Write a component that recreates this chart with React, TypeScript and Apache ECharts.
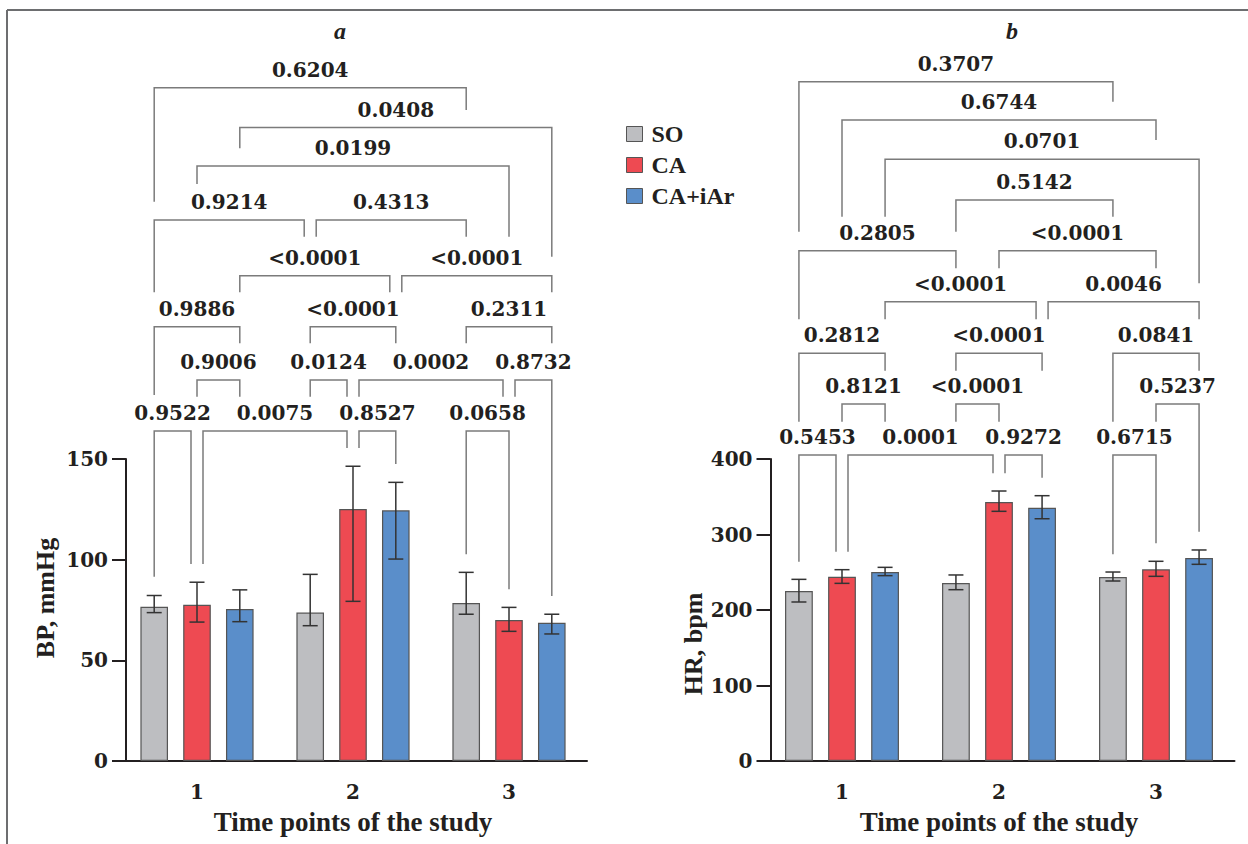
import React, { useEffect, useRef } from 'react';
import * as echarts from 'echarts';

const categories = ['1', '2', '3'];
const groupNames = ['SO', 'CA', 'CA+iAr'];
const groupColors = ['#BDBEC1', '#EE4A52', '#5A8ECA'];

// BP, mmHg (panel a): mean, lower and upper error-bar ends per group, per time point
const bpMeans = [
  [76.6, 73.7, 78.5],
  [77.6, 125.2, 70.0],
  [75.5, 124.5, 68.7],
];
const bpLow = [
  [73.7, 67.2, 72.9],
  [69.0, 79.3, 64.4],
  [69.2, 100.3, 63.1],
];
const bpHigh = [
  [82.2, 92.7, 93.7],
  [88.8, 146.4, 76.3],
  [85.0, 138.4, 72.9],
];

// HR, bpm (panel b)
const hrMeans = [
  [225.2, 235.8, 243.7],
  [244.1, 343.0, 253.9],
  [250.3, 335.5, 268.9],
];
const hrLow = [
  [210.6, 226.9, 238.4],
  [235.3, 330.7, 244.6],
  [245.5, 320.9, 260.5],
];
const hrHigh = [
  [240.6, 246.4, 250.3],
  [253.4, 357.6, 264.5],
  [256.5, 351.4, 279.5],
];

// brackets: [label, time1, group1, side1, time2, group2, side2, top, leg1 end, leg2 end]
const bpBrackets: any[] = [
  ['0.9522', 0, 0, 0, 0, 1, -1, 163.9, 91.5, 97.8],
  ['0.0075', 0, 1, 1, 1, 1, -1, 163.9, 97.8, 155.5],
  ['0.8527', 1, 1, 1, 1, 2, 0, 163.9, 155.5, 147.5],
  ['0.0658', 2, 0, 0, 2, 1, 0, 163.9, 102.7, 85.3],
  ['0.9006', 0, 1, 0, 0, 2, 0, 189.2, 180.9, 180.9],
  ['0.0124', 1, 0, 0, 1, 1, -1, 189.2, 180.9, 180.9],
  ['0.0002', 1, 1, 1, 2, 1, -1, 189.2, 180.9, 180.9],
  ['0.8732', 2, 1, 1, 2, 2, 0, 189.2, 180.9, 82.0],
  ['0.9886', 0, 0, 0, 0, 2, 0, 215.7, 181.8, 207.5],
  ['<0.0001', 1, 0, 0, 1, 2, 0, 215.7, 207.5, 207.5],
  ['0.2311', 2, 0, 0, 2, 2, 0, 215.7, 207.5, 207.5],
  ['<0.0001', 0, 2, 0, 1, 2, -1, 241.0, 232.8, 232.8],
  ['<0.0001', 1, 2, 1, 2, 2, 0, 241.0, 232.8, 232.8],
  ['0.9214', 0, 0, 0, 1, 0, -1, 268.7, 232.8, 260.4],
  ['0.4313', 1, 0, 1, 2, 0, 0, 268.7, 260.4, 260.4],
  ['0.0199', 0, 1, 0, 2, 1, 0, 295.5, 286.6, 260.4],
  ['0.0408', 0, 2, 0, 2, 2, 0, 314.6, 304.3, 250.5],
  ['0.6204', 0, 0, 0, 2, 0, 0, 334.4, 277.8, 323.3],
];
const hrBrackets: any[] = [
  ['0.5453', 0, 0, 0, 0, 1, -1, 405.3, 264.0, 277.2],
  ['0.0001', 0, 1, 1, 1, 1, -1, 405.3, 277.2, 381.1],
  ['0.9272', 1, 1, 1, 1, 2, 0, 405.3, 381.1, 375.2],
  ['0.6715', 2, 0, 0, 2, 1, 0, 405.3, 273.8, 288.3],
  ['0.8121', 0, 1, 0, 0, 2, 0, 472.8, 449.4, 449.4],
  ['<0.0001', 1, 0, 0, 1, 1, 0, 472.8, 449.4, 449.4],
  ['0.5237', 2, 1, 0, 2, 2, 0, 472.8, 449.4, 303.7],
  ['0.2812', 0, 0, 0, 0, 2, 0, 540.0, 449.4, 517.0],
  ['<0.0001', 1, 0, 0, 1, 2, 0, 540.0, 517.0, 517.0],
  ['0.0841', 2, 0, 0, 2, 2, 0, 540.0, 449.4, 517.0],
  ['<0.0001', 0, 2, 0, 1, 2, -1, 608.3, 585.0, 585.0],
  ['0.0046', 1, 2, 1, 2, 2, 0, 608.3, 585.0, 585.0],
  ['0.2805', 0, 0, 0, 1, 0, 0, 675.9, 585.0, 652.6],
  ['<0.0001', 1, 1, 0, 2, 1, 0, 675.9, 652.6, 652.6],
  ['0.5142', 1, 0, 0, 2, 0, 0, 743.0, 701.1, 720.9],
  ['0.0701', 0, 2, 0, 2, 2, 0, 797.0, 720.9, 632.7],
  ['0.6744', 0, 1, 0, 2, 1, 0, 849.0, 720.9, 822.5],
  ['0.3707', 0, 0, 0, 2, 0, 0, 899.7, 701.1, 873.2],
];

const BAR_W = 0.177;
const BAR_GAP = 0.55;
const NUDGE = 6;
const INK = '#231f20';
const SERIF = '"DejaVu Serif", serif';
const TIMES = '"Liberation Serif", serif';

function barX(api: any, g: number, s: number, side: number) {
  const band = api.size([1, 0])[0];
  const c = api.coord([g, 0])[0];
  return c + (s - 1) * band * BAR_W * (1 + BAR_GAP) + side * NUDGE;
}

function errorSeries(axis: number, low: number[][], high: number[][]) {
  const data: number[][] = [];
  for (let s = 0; s < 3; s++) for (let g = 0; g < 3; g++) data.push([g, s, low[s][g], high[s][g]]);
  return {
    type: 'custom',
    xAxisIndex: axis,
    yAxisIndex: axis,
    z: 5,
    silent: true,
    encode: { x: 0, y: 2 },
    data,
    renderItem: (params: any, api: any) => {
      const g = api.value(0);
      const s = api.value(1);
      const x = barX(api, g, s, 0);
      const yl = api.coord([g, api.value(2)])[1];
      const yh = api.coord([g, api.value(3)])[1];
      const cap = 7.5;
      const st = { stroke: '#333', lineWidth: 1.5 };
      return {
        type: 'group',
        children: [
          { type: 'line', shape: { x1: x, y1: yl, x2: x, y2: yh }, style: st },
          { type: 'line', shape: { x1: x - cap, y1: yh, x2: x + cap, y2: yh }, style: st },
          { type: 'line', shape: { x1: x - cap, y1: yl, x2: x + cap, y2: yl }, style: st },
        ],
      };
    },
  };
}

function bracketSeries(axis: number, rows: any[]) {
  const labels = rows.map((r) => r[0]);
  const data = rows.map((r) => r.slice(1));
  return {
    type: 'custom',
    xAxisIndex: axis,
    yAxisIndex: axis,
    z: 6,
    silent: true,
    clip: false,
    encode: { x: 0, y: 6 },
    data,
    renderItem: (params: any, api: any) => {
      const x1 = barX(api, api.value(0), api.value(1), api.value(2));
      const x2 = barX(api, api.value(3), api.value(4), api.value(5));
      const yt = api.coord([0, api.value(6)])[1];
      const y1 = api.coord([0, api.value(7)])[1];
      const y2 = api.coord([0, api.value(8)])[1];
      return {
        type: 'group',
        children: [
          {
            type: 'polyline',
            shape: { points: [[x1, y1], [x1, yt], [x2, yt], [x2, y2]] },
            style: { stroke: '#7b7b7b', lineWidth: 1.5, fill: 'none' },
          },
          {
            type: 'text',
            style: {
              text: labels[params.dataIndex],
              x: (x1 + x2) / 2,
              y: yt - 18,
              align: 'center',
              verticalAlign: 'middle',
              fontFamily: SERIF,
              fontWeight: 'bold',
              fontSize: 20,
              fill: INK,
            },
          },
        ],
      };
    },
  };
}

function barSeries(axis: number, means: number[][]) {
  return means.map((vals, s) => ({
    type: 'bar',
    name: groupNames[s],
    xAxisIndex: axis,
    yAxisIndex: axis,
    data: vals,
    barWidth: '17.7%',
    barGap: '55%',
    z: 3,
    itemStyle: { color: groupColors[s], borderColor: '#555', borderWidth: 1.2 },
  }));
}

function xAxisCfg(grid: number) {
  return {
    type: 'category',
    gridIndex: grid,
    data: categories,
    axisTick: { alignWithLabel: true, length: 12, lineStyle: { color: INK, width: 2 } },
    axisLine: { lineStyle: { color: INK, width: 2 } },
    axisLabel: { margin: 21, fontFamily: SERIF, fontWeight: 'bold', fontSize: 20, lineHeight: 20, color: INK },
    name: 'Time points of the study',
    nameLocation: 'middle',
    nameGap: 47,
    nameTextStyle: { fontFamily: TIMES, fontWeight: 'bold', fontSize: 27, lineHeight: 27, color: INK },
  };
}

function yAxisCfg(grid: number, max: number, interval: number, name: string, gap: number, padding: number[]) {
  return {
    type: 'value',
    gridIndex: grid,
    min: 0,
    max,
    interval,
    offset: -7,
    splitLine: { show: false },
    axisLine: { show: true, lineStyle: { color: INK, width: 2 } },
    axisTick: { show: true, length: 14, lineStyle: { color: INK, width: 2 } },
    axisLabel: { margin: 18, fontFamily: SERIF, fontWeight: 'bold', fontSize: 20, color: INK },
    name,
    nameLocation: 'middle',
    nameGap: gap,
    nameTextStyle: {
      fontFamily: TIMES,
      fontWeight: 'bold',
      fontSize: 26,
      color: INK,
      padding,
    },
  };
}

export default function App() {
  const ref = useRef<HTMLDivElement>(null);
  useEffect(() => {
    if (!ref.current) return;
    const chart = echarts.init(ref.current, undefined, { renderer: 'svg' });
    chart.setOption({
      animation: false,
      backgroundColor: '#fff',
      title: [
        {
          text: 'a',
          left: 335,
          top: 14,
          textAlign: 'center',
          textStyle: { fontFamily: TIMES, fontStyle: 'italic', fontWeight: 'bold', fontSize: 24, color: INK },
        },
        {
          text: 'b',
          left: 1007,
          top: 14,
          textAlign: 'center',
          textStyle: { fontFamily: TIMES, fontStyle: 'italic', fontWeight: 'bold', fontSize: 24, color: INK },
        },
      ],
      legend: {
        data: groupNames,
        orient: 'vertical',
        left: 621,
        top: 117,
        icon: 'rect',
        itemWidth: 16,
        itemHeight: 15,
        itemGap: 7,
        selectedMode: false,
        itemStyle: { borderColor: '#555', borderWidth: 1 },
        textStyle: {
          fontFamily: TIMES,
          fontWeight: 'bold',
          fontSize: 24,
          lineHeight: 24,
          color: INK,
          padding: [0, 0, 0, 4],
        },
      },
      graphic: [
        { type: 'line', shape: { x1: 7, y1: 10, x2: 1248, y2: 10 }, style: { stroke: '#6d6e70', lineWidth: 2 } },
        { type: 'line', shape: { x1: 7, y1: 10, x2: 7, y2: 844 }, style: { stroke: '#6d6e70', lineWidth: 2 } },
      ],
      grid: [
        { left: 119, top: 459, width: 468, height: 302 },
        { left: 763.5, top: 459, width: 471, height: 302 },
      ],
      xAxis: [xAxisCfg(0), xAxisCfg(1)],
      yAxis: [
        yAxisCfg(0, 150, 50, 'BP, mmHg', 68, [0, 0, 0, 24]),
        yAxisCfg(1, 400, 100, 'HR, bpm', 40, [0, 68, 0, 0]),
      ],
      series: [
        ...barSeries(0, bpMeans),
        errorSeries(0, bpLow, bpHigh),
        bracketSeries(0, bpBrackets),
        ...barSeries(1, hrMeans),
        errorSeries(1, hrLow, hrHigh),
        bracketSeries(1, hrBrackets),
      ],
    });
    return () => chart.dispose();
  }, []);
  return (
    <div
      ref={ref}
      style={{ position: 'absolute', left: 0, top: 0, width: 1248, height: 844, background: '#fff' }}
    />
  );
}
